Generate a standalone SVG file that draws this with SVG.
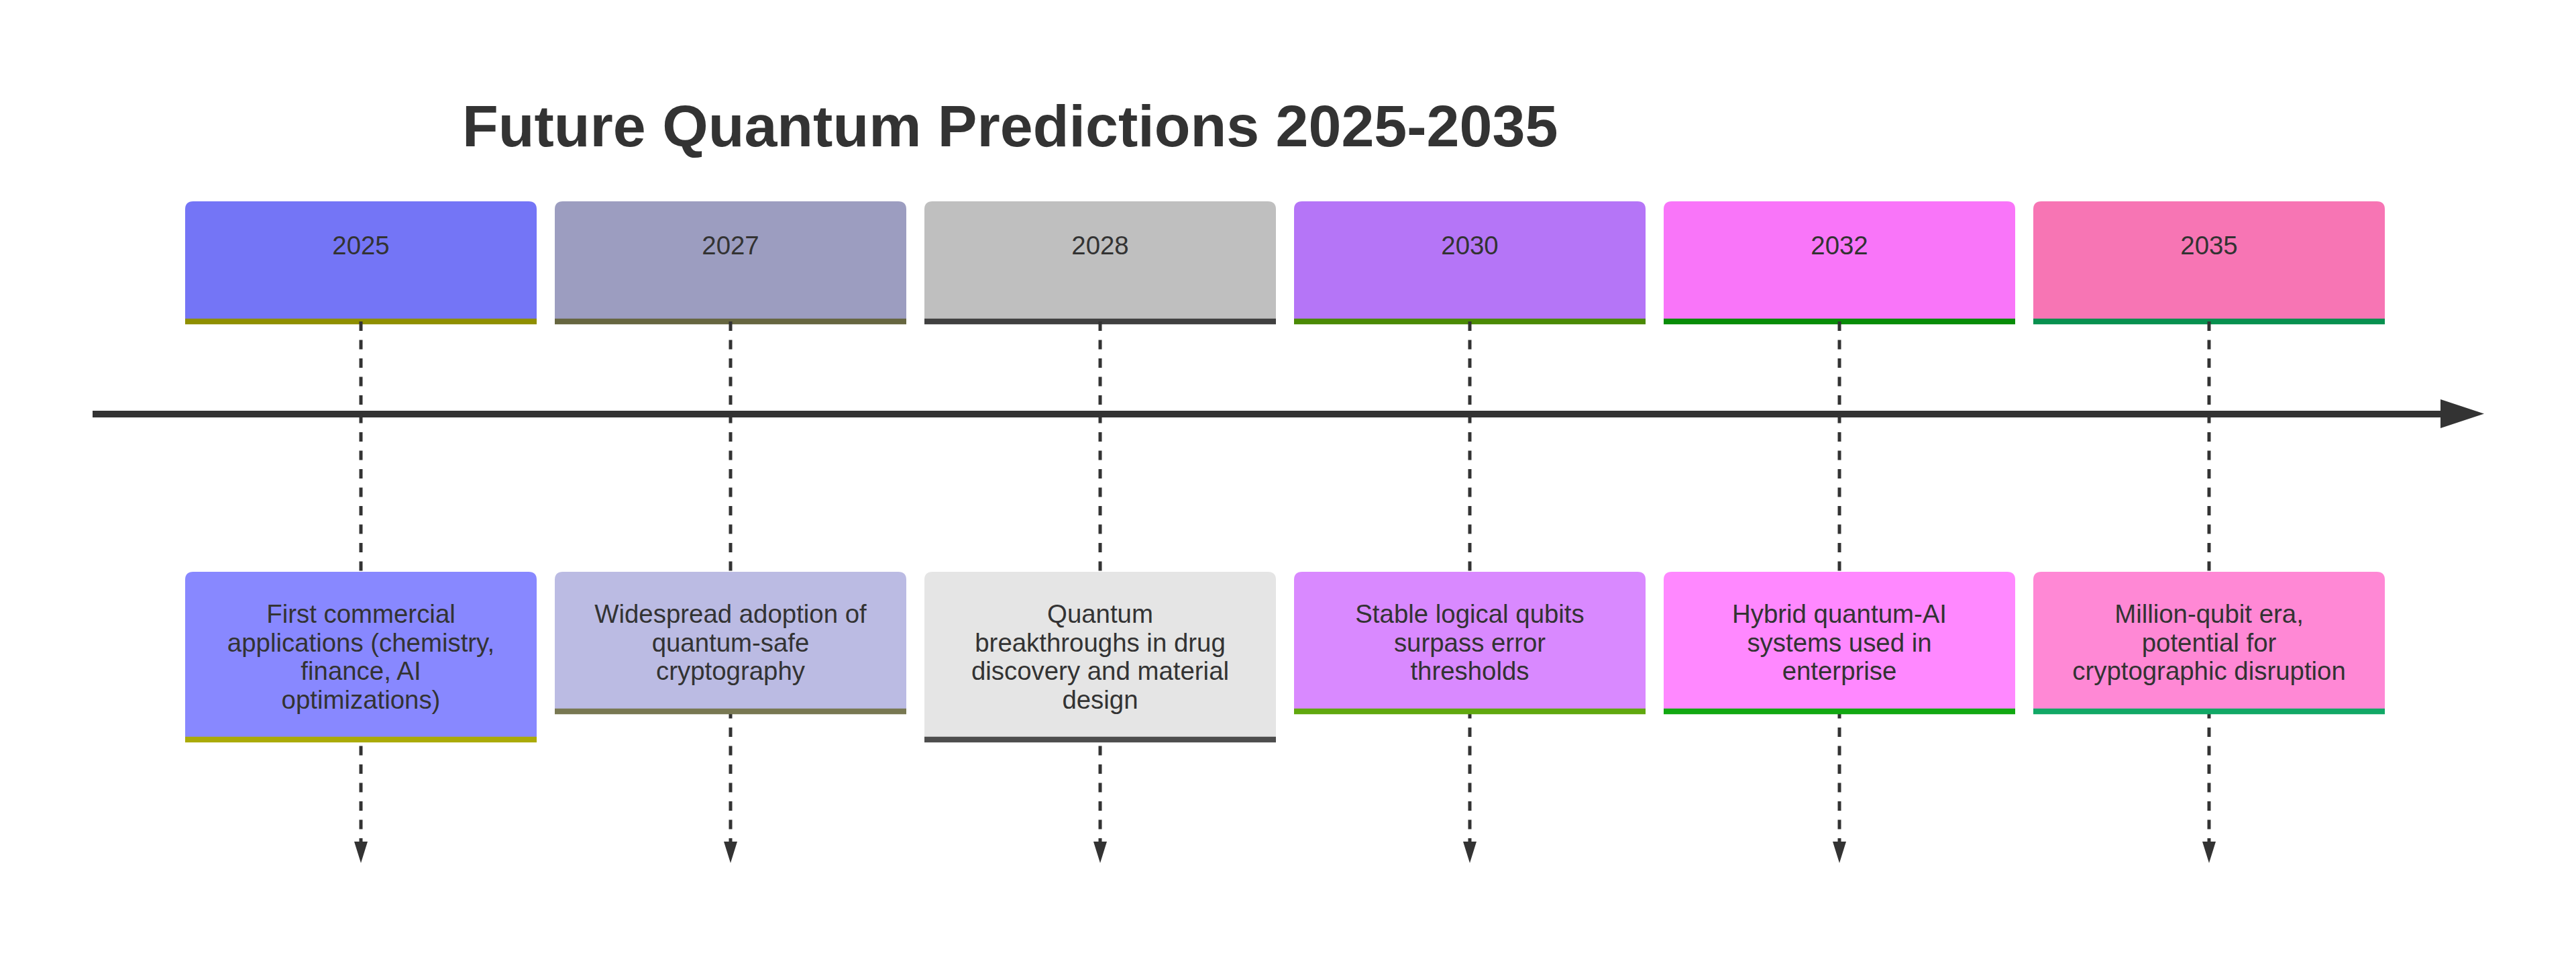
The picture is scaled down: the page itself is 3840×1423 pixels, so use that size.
<svg xmlns="http://www.w3.org/2000/svg" width="3840" height="1423" viewBox="0 0 3840 1423">
<style>
.bg{fill:#ffffff}
.title{font-family:"Liberation Sans",Arial,sans-serif;font-size:88px;font-weight:bold;fill:#333333}
.t{font-family:"Liberation Sans",Arial,sans-serif;font-size:38.4px;fill:#333333;text-anchor:middle}
.bar{stroke-width:8.5;fill:none}
.dash{stroke:#333333;stroke-width:5;stroke-dasharray:14 13.5;fill:none}
.axis{stroke:#333333;stroke-width:10;fill:none}
.head{fill:#333333}
</style>
<rect class="bg" x="0" y="0" width="3840" height="1423"/>
<text class="title" x="689" y="218">Future Quantum Predictions 2025-2035</text>

<g id="year-2025">
<path d="M276,479 V312 Q276,300 288,300 H788 Q800,300 800,312 V479 Z" fill="#7475F6"/>
<line class="bar" x1="276" y1="479" x2="800" y2="479" stroke="#8F8F00"/>
<text class="t" x="538" y="379">2025</text>
</g>
<g id="year-2027">
<path d="M827,479 V312 Q827,300 839,300 H1339 Q1351,300 1351,312 V479 Z" fill="#9C9DC0"/>
<line class="bar" x1="827" y1="479" x2="1351" y2="479" stroke="#666640"/>
<text class="t" x="1089" y="379">2027</text>
</g>
<g id="year-2028">
<path d="M1378,479 V312 Q1378,300 1390,300 H1890 Q1902,300 1902,312 V479 Z" fill="#BFBFBF"/>
<line class="bar" x1="1378" y1="479" x2="1902" y2="479" stroke="#404040"/>
<text class="t" x="1640" y="379">2028</text>
</g>
<g id="year-2030">
<path d="M1929,479 V312 Q1929,300 1941,300 H2441 Q2453,300 2453,312 V479 Z" fill="#B575F7"/>
<line class="bar" x1="1929" y1="479" x2="2453" y2="479" stroke="#4A8A04"/>
<text class="t" x="2191" y="379">2030</text>
</g>
<g id="year-2032">
<path d="M2480,479 V312 Q2480,300 2492,300 H2992 Q3004,300 3004,312 V479 Z" fill="#F975F9"/>
<line class="bar" x1="2480" y1="479" x2="3004" y2="479" stroke="#088C08"/>
<text class="t" x="2742" y="379">2032</text>
</g>
<g id="year-2035">
<path d="M3031,479 V312 Q3031,300 3043,300 H3543 Q3555,300 3555,312 V479 Z" fill="#F775B4"/>
<line class="bar" x1="3031" y1="479" x2="3555" y2="479" stroke="#08904F"/>
<text class="t" x="3293" y="379">2035</text>
</g>

<g id="connectors">
<line class="axis" x1="138" y1="617" x2="3645" y2="617"/>
<polygon class="head" points="3638,595 3703,616.5 3638,638"/>
<line class="dash" x1="538" y1="479" x2="538" y2="1258"/>
<polygon class="head" points="528,1254 548,1254 538,1286"/>
<line class="dash" x1="1089" y1="479" x2="1089" y2="1258"/>
<polygon class="head" points="1079,1254 1099,1254 1089,1286"/>
<line class="dash" x1="1640" y1="479" x2="1640" y2="1258"/>
<polygon class="head" points="1630,1254 1650,1254 1640,1286"/>
<line class="dash" x1="2191" y1="479" x2="2191" y2="1258"/>
<polygon class="head" points="2181,1254 2201,1254 2191,1286"/>
<line class="dash" x1="2742" y1="479" x2="2742" y2="1258"/>
<polygon class="head" points="2732,1254 2752,1254 2742,1286"/>
<line class="dash" x1="3293" y1="479" x2="3293" y2="1258"/>
<polygon class="head" points="3283,1254 3303,1254 3293,1286"/>
</g>

<g id="event-2025">
<path d="M276,1102 V864 Q276,852 288,852 H788 Q800,852 800,864 V1102 Z" fill="#8888FF"/>
<line class="bar" x1="276" y1="1102" x2="800" y2="1102" stroke="#AAAA08"/>
<text class="t" x="538" y="928">First commercial</text>
<text class="t" x="538" y="970.5">applications (chemistry,</text>
<text class="t" x="538" y="1013">finance, AI</text>
<text class="t" x="538" y="1055.5">optimizations)</text>
</g>
<g id="event-2027">
<path d="M827,1060 V864 Q827,852 839,852 H1339 Q1351,852 1351,864 V1060 Z" fill="#BBBBE3"/>
<line class="bar" x1="827" y1="1060" x2="1351" y2="1060" stroke="#787852"/>
<text class="t" x="1089" y="928">Widespread adoption of</text>
<text class="t" x="1089" y="970.5">quantum-safe</text>
<text class="t" x="1089" y="1013">cryptography</text>
</g>
<g id="event-2028">
<path d="M1378,1102 V864 Q1378,852 1390,852 H1890 Q1902,852 1902,864 V1102 Z" fill="#E5E5E5"/>
<line class="bar" x1="1378" y1="1102" x2="1902" y2="1102" stroke="#4D4D4D"/>
<text class="t" x="1640" y="928">Quantum</text>
<text class="t" x="1640" y="970.5">breakthroughs in drug</text>
<text class="t" x="1640" y="1013">discovery and material</text>
<text class="t" x="1640" y="1055.5">design</text>
</g>
<g id="event-2030">
<path d="M1929,1060 V864 Q1929,852 1941,852 H2441 Q2453,852 2453,864 V1060 Z" fill="#D989FF"/>
<line class="bar" x1="1929" y1="1060" x2="2453" y2="1060" stroke="#60A80E"/>
<text class="t" x="2191" y="928">Stable logical qubits</text>
<text class="t" x="2191" y="970.5">surpass error</text>
<text class="t" x="2191" y="1013">thresholds</text>
</g>
<g id="event-2032">
<path d="M2480,1060 V864 Q2480,852 2492,852 H2992 Q3004,852 3004,864 V1060 Z" fill="#FF88FF"/>
<line class="bar" x1="2480" y1="1060" x2="3004" y2="1060" stroke="#11A811"/>
<text class="t" x="2742" y="928">Hybrid quantum-AI</text>
<text class="t" x="2742" y="970.5">systems used in</text>
<text class="t" x="2742" y="1013">enterprise</text>
</g>
<g id="event-2035">
<path d="M3031,1060 V864 Q3031,852 3043,852 H3543 Q3555,852 3555,864 V1060 Z" fill="#FF88D5"/>
<line class="bar" x1="3031" y1="1060" x2="3555" y2="1060" stroke="#11A866"/>
<text class="t" x="3293" y="928">Million-qubit era,</text>
<text class="t" x="3293" y="970.5">potential for</text>
<text class="t" x="3293" y="1013">cryptographic disruption</text>
</g>
</svg>
